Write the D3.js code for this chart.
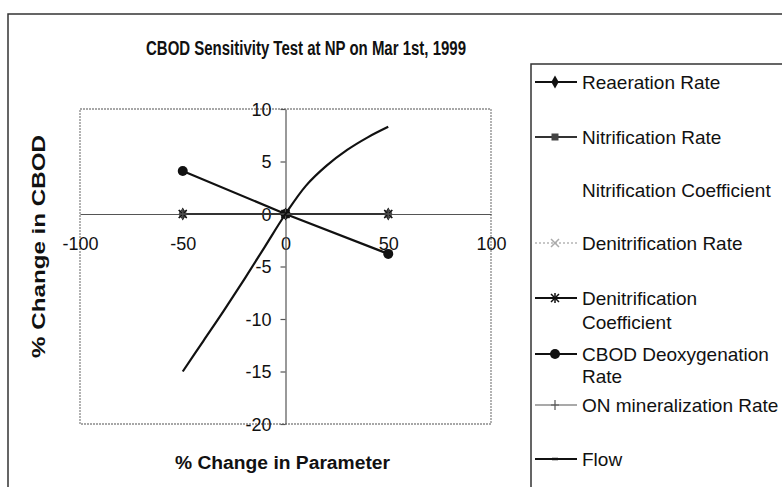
<!DOCTYPE html>
<html>
<head>
<meta charset="utf-8">
<script src="https://cdn.jsdelivr.net/npm/d3@7"></script>
<style>
  html, body { margin: 0; padding: 0; background: #fff; }
  svg { display: block; font-family: "Liberation Sans", Arial, sans-serif; }
</style>
</head>
<body>
<svg id="chart" width="782" height="487"></svg>
<script>
// Percent change applied to each model parameter
const pctChange = [-50, 0, 50];

// Resulting % change in CBOD for each parameter series
const reaerationRate      = [0, 0, 0];
const nitrificationRate   = [0, 0, 0];
const nitrificationCoef   = [0, 0, 0];
const denitrificationRate = [0, 0, 0];
const denitrificationCoef = [0, 0, 0];
const cbodDeoxygenation   = [4.1, 0, -3.8];
const onMineralization    = [0, 0, 0];

// Flow was run at finer steps
const flowPct    = [-50, -40, -30, -20, -10, 0, 10, 20, 30, 40, 50];
const flowChange = [-15.0, -12.1, -9.2, -6.2, -3.1, 0, 2.7, 4.6, 6.1, 7.3, 8.3];

// Axis ticks
const xTicks = [-100, -50, 0, 50, 100];
const yTicks = [-20, -15, -10, -5, 0, 5, 10];

// Legend labels (line breaks where the label wraps)
const seriesLabels = [
  ["Reaeration Rate"],
  ["Nitrification Rate"],
  ["Nitrification Coefficient"],
  ["Denitrification Rate"],
  ["Denitrification", "Coefficient"],
  ["CBOD Deoxygenation", "Rate"],
  ["ON mineralization Rate"],
  ["Flow"]
];

const svg = d3.select("#chart");

// Chart frame
svg.append("rect").attr("x", 8).attr("y", 14).attr("width", 800).attr("height", 500)
  .attr("fill", "#fff").attr("stroke", "#333").attr("stroke-width", 1.5);

const x = d3.scaleLinear().domain([-100, 100]).range([80, 491]);
const y = d3.scaleLinear().domain([-20, 10]).range([424, 109]);

// Plot-area border (dotted)
svg.append("rect")
  .attr("x", x(-100)).attr("y", y(10))
  .attr("width", x(100) - x(-100)).attr("height", y(-20) - y(10))
  .attr("fill", "none").attr("stroke", "#8a8a8a").attr("stroke-width", 1.3)
  .attr("stroke-dasharray", "2,1");

// Title
svg.append("text").attr("x", 146).attr("y", 55)
  .attr("textLength", 320).attr("lengthAdjust", "spacingAndGlyphs")
  .style("font-size", "20px").style("font-weight", "bold").attr("fill", "#111")
  .text("CBOD Sensitivity Test at NP on Mar 1st, 1999");

// Axis titles
svg.append("text").attr("transform", "translate(45,358) rotate(-90)")
  .attr("textLength", 223).attr("lengthAdjust", "spacingAndGlyphs")
  .style("font-size", "18px").style("font-weight", "bold").attr("fill", "#111")
  .text("% Change in CBOD");

svg.append("text").attr("x", 175).attr("y", 469)
  .attr("textLength", 215).attr("lengthAdjust", "spacingAndGlyphs")
  .style("font-size", "18px").style("font-weight", "bold").attr("fill", "#111")
  .text("% Change in Parameter");

// Axes crossing at the origin
const fmt = d => String(d);
const xAxis = svg.append("g").attr("transform", `translate(0,${y(0)})`)
  .call(d3.axisBottom(x).tickValues(xTicks).tickFormat(fmt).tickSize(0).tickPadding(23));
const yAxis = svg.append("g").attr("transform", `translate(${x(0)},0)`)
  .call(d3.axisLeft(y).tickValues(yTicks).tickFormat(fmt).tickSize(5).tickSizeOuter(0).tickPadding(9));

[xAxis, yAxis].forEach(a => {
  a.select(".domain").attr("stroke", "#555").attr("stroke-width", 1.2);
  a.selectAll(".tick line").attr("stroke", "#555").attr("stroke-width", 1.2);
  a.selectAll("text").style("font-size", "18px").style("font-family", "'Liberation Sans', Arial, sans-serif")
    .attr("fill", "#111");
});
yAxis.selectAll("text").attr("dy", "0.36em");

// Marker glyphs
function marker(g, type, cx, cy, color) {
  const m = g.append("g").attr("transform", `translate(${cx},${cy})`);
  if (type === "diamond") {
    m.append("path").attr("d", d3.symbol(d3.symbolDiamond, 48)()).attr("fill", color);
  } else if (type === "square") {
    m.append("rect").attr("x", -3.5).attr("y", -3.5).attr("width", 7).attr("height", 7).attr("fill", color);
  } else if (type === "x" || type === "asterisk") {
    m.append("path").attr("d", "M-4,-4L4,4M-4,4L4,-4").attr("stroke", color).attr("stroke-width", 1.5);
    if (type === "asterisk") m.append("path").attr("d", "M0,-5L0,5").attr("stroke", color).attr("stroke-width", 1.5);
  } else if (type === "circle") {
    m.append("circle").attr("r", 5).attr("fill", color);
  } else if (type === "plus") {
    m.append("path").attr("d", "M0,-5L0,5M-4,0L4,0").attr("stroke", color).attr("stroke-width", 1.2);
  } else if (type === "dash") {
    m.append("path").attr("d", "M-3,0L3,0").attr("stroke", color).attr("stroke-width", 2.5);
  }
}

const series = [
  { xs: pctChange, ys: reaerationRate,      stroke: "#111", width: 2,   dash: null,  marker: "diamond",  mcolor: "#111" },
  { xs: pctChange, ys: nitrificationRate,   stroke: "#333", width: 2,   dash: null,  marker: "square",   mcolor: "#444" },
  { xs: pctChange, ys: nitrificationCoef,   stroke: "none", width: 0,   dash: null,  marker: null,       mcolor: null },
  { xs: pctChange, ys: denitrificationRate, stroke: "#b5b5b5", width: 1.5, dash: "2,2", marker: "x",    mcolor: "#aaa" },
  { xs: pctChange, ys: denitrificationCoef, stroke: "#111", width: 2,   dash: null,  marker: "asterisk", mcolor: "#111" },
  { xs: pctChange, ys: cbodDeoxygenation,   stroke: "#111", width: 2.2, dash: null,  marker: "circle",   mcolor: "#111" },
  { xs: pctChange, ys: onMineralization,    stroke: "#555", width: 1.2, dash: null,  marker: "plus",     mcolor: "#555" },
  // Flow curve is drawn as a plain smooth line; its dash marker shows only in the legend
  { xs: flowPct,   ys: flowChange,          stroke: "#111", width: 2.2, dash: null,  marker: "dash",     mcolor: "#111",
    curve: d3.curveCatmullRom.alpha(0.5), plotMarkers: false }
];

const plot = svg.append("g");
series.forEach(s => {
  const pts = s.xs.map((v, i) => [v, s.ys[i]]);
  if (s.stroke !== "none") {
    plot.append("path").datum(pts)
      .attr("d", d3.line().x(d => x(d[0])).y(d => y(d[1])).curve(s.curve || d3.curveLinear))
      .attr("fill", "none").attr("stroke", s.stroke).attr("stroke-width", s.width)
      .attr("stroke-dasharray", s.dash);
  }
  if (s.marker && s.plotMarkers !== false) pts.forEach(p => marker(plot, s.marker, x(p[0]), y(p[1]), s.mcolor));
});

// Legend
const legend = svg.append("g");
legend.append("rect").attr("x", 531).attr("y", 64).attr("width", 300).attr("height", 500)
  .attr("fill", "#fff").attr("stroke", "#333").attr("stroke-width", 1.5);

const rowY = [82, 137, 190, 243, 298, 354, 405, 459];
const lineGap = [0, 0, 0, 0, 24, 22, 0, 0];
series.forEach((s, i) => {
  const cy = rowY[i];
  if (s.stroke !== "none") {
    legend.append("line").attr("x1", 535).attr("x2", 577).attr("y1", cy).attr("y2", cy)
      .attr("stroke", s.stroke).attr("stroke-width", Math.min(s.width, 1.8))
      .attr("stroke-dasharray", s.dash);
  }
  if (s.marker) marker(legend, s.marker, 555, cy, s.mcolor);
  const t = legend.append("text").attr("x", 582).attr("y", cy)
    .style("font-size", "19px").attr("fill", "#111");
  seriesLabels[i].forEach((line, j) => {
    t.append("tspan").attr("x", 582).attr("y", cy + j * lineGap[i]).attr("dy", "0.35em").text(line);
  });
});
</script>
</body>
</html>
